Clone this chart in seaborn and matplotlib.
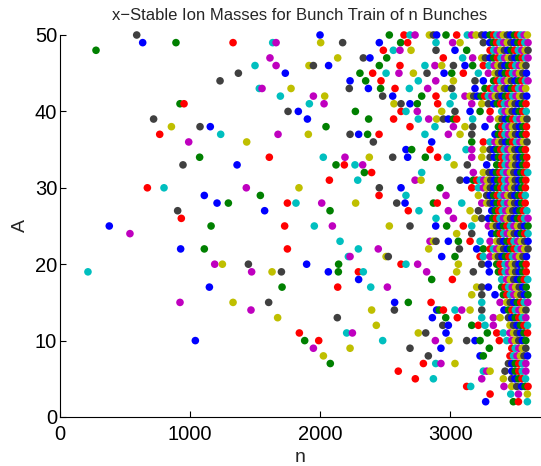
import numpy as np
import pandas as pd
import matplotlib
matplotlib.use("Agg")
import matplotlib.pyplot as plt
import seaborn as sns

# MATLAB-style colour cycle (b, g, r, c, m, y, k)
palette = {"b": "#0000ff", "g": "#008000", "r": "#ff0000", "c": "#00bfbf",
           "m": "#bf00bf", "y": "#bfbf00", "k": "#404040"}
cycle = ["b", "g", "r", "c", "m", "y", "k"]

# stable bunch numbers n for each ion mass A
n_A50 = [590, 2000, 2533, 2646, 2692, 2731, 2841, 2872, 2897, 2969, 3051, 3133, 3167, 3200, 3244, 3272, 3308, 3335, 3360, 3385, 3410, 3440, 3465, 3495, 3520, 3545, 3570, 3595]
n_A49 = [636, 892, 1331, 1636, 1662, 2005, 2174, 2456, 2620, 2674, 2892, 3020, 3077, 3256, 3305, 3333, 3358, 3385, 3412, 3440, 3468, 3494, 3522, 3548, 3575, 3600]
n_A48 = [277, 2487, 2564, 2615, 2700, 2892, 3038, 3128, 3308, 3336, 3362, 3390, 3418, 3444, 3470, 3498, 3525, 3552, 3578, 3600]
n_A47 = [1615, 2136, 2333, 2384, 2513, 2948, 3097, 3174, 3244, 3272, 3308, 3335, 3364, 3392, 3420, 3447, 3474, 3500, 3528, 3555, 3580, 3600]
n_A46 = [1500, 1662, 1915, 1949, 2066, 2456, 2615, 2807, 2884, 2936, 3026, 3115, 3174, 3256, 3300, 3340, 3368, 3395, 3422, 3450, 3477, 3505, 3532, 3558, 3584]
n_A45 = [1372, 1733, 2307, 2405, 2508, 2607, 2718, 2823, 2954, 3013, 3102, 3218, 3295, 3346, 3372, 3398, 3425, 3452, 3480, 3507, 3534, 3560, 3588]
n_A44 = [1231, 2231, 2351, 2469, 2756, 2890, 3026, 3192, 3256, 3335, 3362, 3390, 3417, 3445, 3472, 3500, 3527, 3554, 3580, 3600]
n_A43 = [1533, 1554, 1777, 2225, 2372, 2466, 2577, 2687, 2828, 2961, 3013, 3192, 3269, 3308, 3335, 3362, 3390, 3418, 3445, 3472, 3500, 3527, 3555, 3582]
n_A42 = [1695, 1949, 2036, 2482, 2559, 2782, 2892, 3026, 3115, 3154, 3182, 3210, 3238, 3266, 3294, 3322, 3348, 3372, 3399, 3426, 3454, 3481, 3508, 3535, 3562, 3590]
n_A41 = [923, 954, 1918, 2031, 2569, 2623, 2692, 2748, 2905, 3000, 3167, 3244, 3295, 3336, 3363, 3390, 3418, 3446, 3474, 3501, 3528, 3556, 3584]
n_A40 = [1754, 1833, 2272, 2623, 2661, 2748, 2936, 3038, 3154, 3231, 3308, 3397, 3424, 3451, 3478, 3505, 3532, 3559, 3586]
n_A39 = [720, 1903, 2374, 2566, 2756, 2836, 2897, 2949, 2987, 3026, 3051, 3174, 3308, 3372, 3400, 3427, 3455, 3482, 3510, 3537, 3565, 3592]
n_A38 = [857, 1077, 1156, 2046, 2692, 2884, 3026, 3115, 3174, 3269, 3372, 3399, 3426, 3453, 3480, 3507, 3534, 3561, 3588]
n_A37 = [767, 1236, 1677, 1910, 2231, 2297, 2366, 2454, 2807, 2987, 3077, 3167, 3346, 3372, 3398, 3423, 3450, 3477, 3504, 3531, 3558, 3585]
n_A36 = [990, 1436, 2410, 2859, 3167, 3256, 3308, 3346, 3373, 3400, 3428, 3455, 3482, 3510, 3537, 3564, 3592]
n_A35 = [2661, 2705, 2846, 3123, 3167, 3256, 3308, 3335, 3362, 3390, 3417, 3444, 3472, 3499, 3526, 3553, 3580]
n_A34 = [1074, 1610, 2025, 2192, 2379, 2559, 2674, 2810, 2905, 2979, 3167, 3244, 3308, 3340, 3372, 3399, 3427, 3454, 3481, 3509, 3536, 3563, 3590]
n_A33 = [946, 1362, 2123, 2187, 2269, 2328, 3031, 3133, 3282, 3359, 3397, 3424, 3451, 3478, 3505, 3532, 3560, 3587]
n_A32 = [2341, 2397, 2782, 3179, 3256, 3300, 3330, 3357, 3384, 3410, 3437, 3464, 3491, 3518, 3545, 3572, 3598]
n_A31 = [2072, 2290, 2731, 2777, 3077, 3128, 3179, 3205, 3232, 3259, 3286, 3313, 3340, 3367, 3394, 3421, 3448, 3475, 3502, 3529, 3556, 3583]
n_A30 = [672, 800, 1433, 1838, 2456, 2623, 2923, 3167, 3218, 3256, 3283, 3310, 3337, 3364, 3391, 3418, 3445, 3472, 3499, 3526, 3553, 3580]
n_A29 = [1110, 1541, 2454, 2661, 2969, 3218, 3282, 3309, 3336, 3363, 3390, 3417, 3444, 3471, 3498, 3525, 3552, 3579]
n_A28 = [1208, 1295, 1749, 1815, 2013, 2274, 2590, 2654, 2872, 2902, 3090, 3244, 3282, 3308, 3335, 3362, 3389, 3416, 3443, 3470, 3497, 3524, 3551, 3578]
n_A27 = [905, 1574, 2077, 2679, 2761, 2987, 3154, 3218, 3321, 3348, 3375, 3402, 3429, 3456, 3483, 3510, 3537, 3564, 3591]
n_A26 = [933, 2892, 3026, 3192, 3244, 3295, 3330, 3357, 3384, 3411, 3438, 3465, 3492, 3519, 3546, 3573, 3600]
n_A25 = [379, 1162, 1728, 1956, 2095, 2533, 2692, 2890, 2974, 3102, 3167, 3295, 3330, 3357, 3384, 3411, 3438, 3465, 3492, 3519, 3546, 3573, 3600]
n_A24 = [538, 3051, 3167, 3320, 3359, 3386, 3413, 3440, 3467, 3494, 3521, 3548, 3575, 3600]
n_A23 = [2154, 2846, 2872, 2892, 2987, 3064, 3154, 3231, 3308, 3359, 3385, 3412, 3439, 3466, 3493, 3520, 3547, 3574, 3600]
n_A22 = [928, 1110, 1749, 2295, 2448, 2836, 3072, 3205, 3256, 3308, 3333, 3359, 3385, 3412, 3439, 3466, 3493, 3520, 3547, 3574, 3600]
n_A21 = [2218, 2231, 2508, 2525, 2936, 3038, 3231, 3256, 3308, 3350, 3372, 3399, 3426, 3453, 3480, 3507, 3534, 3561, 3588]
n_A20 = [1190, 1249, 1449, 1897, 2143, 2623, 2661, 2751, 3064, 3244, 3295, 3359, 3385, 3423, 3450, 3477, 3504, 3531, 3558, 3585]
n_A19 = [215, 1474, 1631, 1703, 2064, 2141, 2295, 2333, 2820, 3051, 3179, 3302, 3372, 3397, 3424, 3451, 3478, 3505, 3532, 3559, 3586]
n_A18 = [2297, 2859, 3018, 3397, 3436, 3463, 3490, 3517, 3544, 3571, 3598]
n_A17 = [1149, 1708, 2136, 2390, 2518, 3205, 3244, 3295, 3397, 3424, 3451, 3478, 3505, 3532, 3559, 3586]
n_A16 = [3167, 3244, 3346, 3410, 3437, 3464, 3491, 3518, 3545, 3572, 3599]
n_A15 = [923, 1331, 1605, 2574, 2679, 2854, 3244, 3385, 3436, 3463, 3490, 3517, 3544, 3571, 3598]
n_A14 = [1469, 2397, 2572, 2897, 2918, 2949, 3038, 3090, 3154, 3244, 3415, 3449, 3476, 3503, 3530, 3557, 3584]
n_A13 = [1674, 2133, 2864, 2967, 3056, 3244, 3333, 3385, 3449, 3475, 3502, 3529, 3556, 3583]
n_A12 = [2433, 2944, 2987, 3167, 3218, 3269, 3333, 3461, 3488, 3515, 3542, 3569, 3596]
n_A11 = [1841, 2205, 2249, 2756, 2813, 2969, 3287, 3359, 3410, 3461, 3488, 3515, 3542, 3569, 3596]
n_A10 = [1041, 1882, 1990, 2482, 2887, 2992, 3128, 3192, 3231, 3379, 3436, 3475, 3502, 3529, 3556, 3583]
n_A9 = [1949, 2231, 2692, 2930, 3302, 3475, 3502, 3529, 3556, 3583]
n_A8 = [2026, 2833, 3231, 3256, 3461, 3488, 3515, 3542, 3569, 3596]
n_A7 = [2079, 2795, 2890, 2930, 3038, 3449, 3475, 3502, 3529, 3556, 3583]
n_A6 = [2602, 3256, 3282, 3308, 3423, 3475, 3502, 3529, 3556, 3583]
n_A5 = [2733, 2872, 3244, 3410, 3474, 3500, 3527, 3554, 3581]
n_A4 = [3128, 3159, 3415, 3474, 3513, 3550, 3577, 3600]
n_A3 = [3308, 3467, 3526, 3595]
n_A2 = [3274, 3487, 3526, 3595]

# colour of the first (lowest-n) point in each row; colours then cycle along the row
first_colour = {50: "k", 49: "b", 48: "g", 47: "m", 46: "c", 45: "k", 44: "k",
                43: "c", 42: "c", 41: "g", 40: "k", 39: "k", 38: "y", 37: "r",
                36: "m", 35: "b", 34: "g", 33: "k", 32: "g", 31: "r", 30: "r",
                29: "b", 28: "b", 27: "k", 26: "r", 25: "b", 24: "m", 23: "c",
                22: "b", 21: "c", 20: "m", 19: "c", 18: "b", 17: "b", 16: "y",
                15: "m", 14: "m", 13: "y", 12: "y", 11: "r", 10: "b", 9: "m",
                8: "y", 7: "g", 6: "r", 5: "r", 4: "r", 3: "r", 2: "b"}

rows = {50: n_A50, 49: n_A49, 48: n_A48, 47: n_A47, 46: n_A46, 45: n_A45,
        44: n_A44, 43: n_A43, 42: n_A42, 41: n_A41, 40: n_A40, 39: n_A39,
        38: n_A38, 37: n_A37, 36: n_A36, 35: n_A35, 34: n_A34, 33: n_A33,
        32: n_A32, 31: n_A31, 30: n_A30, 29: n_A29, 28: n_A28, 27: n_A27,
        26: n_A26, 25: n_A25, 24: n_A24, 23: n_A23, 22: n_A22, 21: n_A21,
        20: n_A20, 19: n_A19, 18: n_A18, 17: n_A17, 16: n_A16, 15: n_A15,
        14: n_A14, 13: n_A13, 12: n_A12, 11: n_A11, 10: n_A10, 9: n_A9,
        8: n_A8, 7: n_A7, 6: n_A6, 5: n_A5, 4: n_A4, 3: n_A3, 2: n_A2}

recs = []
for A, ns in rows.items():
    start = cycle.index(first_colour[A])
    for i, n in enumerate(ns):
        recs.append({"n": n, "A": A, "col": cycle[(start + i) % 7]})
df = pd.DataFrame(recs)

sns.set_theme(style="white")
plt.rcParams["font.family"] = ["Liberation Sans", "DejaVu Sans"]

fig = plt.figure(figsize=(5.41, 4.66), dpi=100)
ax = fig.add_axes([60 / 541, 49 / 466, 480 / 541, 382 / 466])
sns.scatterplot(data=df, x="n", y="A", hue="col", palette=palette,
                s=30, linewidth=0, legend=False, ax=ax, clip_on=False)

ax.set_xlim(0, 3692)
ax.set_ylim(0, 50)
ax.set_xticks([0, 1000, 2000, 3000])
ax.set_yticks([0, 10, 20, 30, 40, 50])
ax.tick_params(direction="in", length=4, width=0.8, labelsize=14.5, colors="black",
               bottom=True, left=True)
ax.tick_params(axis="x", pad=6)
ax.tick_params(axis="y", pad=2)
for s in ["top", "right"]:
    ax.spines[s].set_visible(False)
for s in ["left", "bottom"]:
    ax.spines[s].set_color("black")
    ax.spines[s].set_linewidth(0.8)
ax.set_xlabel("n", fontsize=14, labelpad=3)
ax.set_ylabel("A", fontsize=14, labelpad=4)
ax.set_title("x\u2212Stable Ion Masses for Bunch Train of n Bunches", fontsize=12, pad=11)

fig.savefig("out.png", dpi=100)
